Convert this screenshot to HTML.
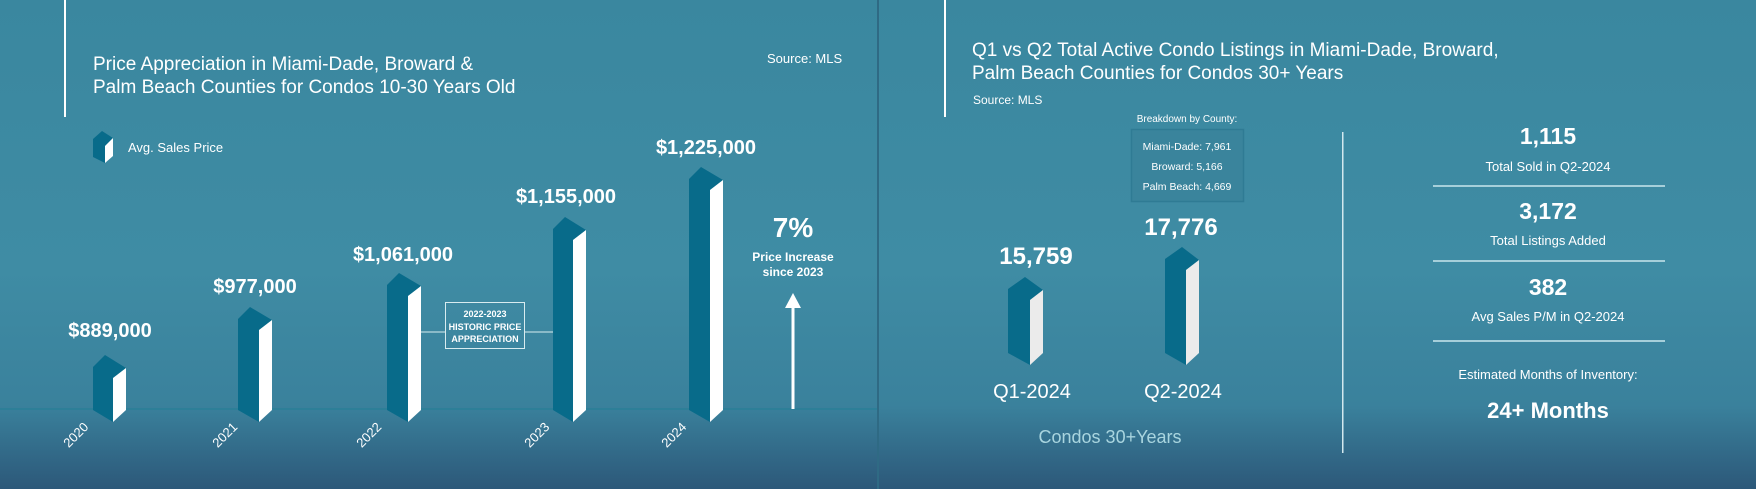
<!DOCTYPE html>
<html><head><meta charset="utf-8"><style>
html,body{margin:0;padding:0;width:1756px;height:489px;overflow:hidden}
body{background:linear-gradient(180deg,#3a87a0 0%,#3e8ca4 60%,#3a819c 80%,#2c5a7b 100%);font-family:"Liberation Sans",sans-serif}
svg text{font-family:"Liberation Sans",sans-serif;fill:#fff}
</style></head><body>
<svg width="1756" height="489" viewBox="0 0 1756 489" xmlns="http://www.w3.org/2000/svg">
<defs>
<linearGradient id="bg" x1="0" y1="0" x2="0" y2="1">
<stop offset="0" stop-color="#3a879f"/><stop offset="0.55" stop-color="#3f8ca4"/><stop offset="0.83" stop-color="#3a819c"/><stop offset="1" stop-color="#2c5879"/></linearGradient>
</defs>
<rect width="1756" height="489" fill="url(#bg)"/>
<rect x="877" y="0" width="2" height="489" fill="#2f6a84"/>
<!-- LEFT -->
<rect x="64" y="0" width="2" height="117" fill="#fff"/>
<text x="93" y="70" font-size="19">Price Appreciation in Miami-Dade, Broward &amp;</text>
<text x="93" y="93" font-size="19">Palm Beach Counties for Condos 10-30 Years Old</text>
<text x="767" y="63" font-size="13">Source: MLS</text>
<polygon points="93,139 102,131 113,138 105,146 105,163 93,157" fill="#086b8a"/>
<polygon points="105,146 113,138 113,156 105,163" fill="#fff"/>
<text x="128" y="152" font-size="13">Avg. Sales Price</text>
<rect x="0" y="408" width="877" height="2" fill="#2d7f98"/>
<g font-weight="bold" font-size="20" text-anchor="middle">
<text x="110" y="337">$889,000</text>
<text x="255" y="293">$977,000</text>
<text x="403" y="261">$1,061,000</text>
<text x="566" y="203">$1,155,000</text>
<text x="706" y="154">$1,225,000</text>
</g>
<g fill="#086b8a">
<polygon points="93,367 105,355 126,368 113,378 113,422 93,410"/>
<polygon points="238,319 250,307 272,320 259,330 259,422 238,410"/>
<polygon points="387,285 399,273 421,286 408,296 408,422 387,410"/>
<polygon points="553,229 565,217 586,230 573,240 573,422 553,410"/>
<polygon points="689,179 701,167 723,180 710,190 710,422 689,410"/>
</g>
<g fill="#fff">
<polygon points="113,378 126,368 126,410 113,422"/>
<polygon points="259,330 272,320 272,410 259,422"/>
<polygon points="408,296 421,286 421,410 408,422"/>
<polygon points="573,240 586,230 586,410 573,422"/>
<polygon points="710,190 723,180 723,410 710,422"/>
</g>
<g font-size="13">
<text transform="translate(79,438) rotate(-45)" text-anchor="middle">2020</text>
<text transform="translate(228,438) rotate(-45)" text-anchor="middle">2021</text>
<text transform="translate(372,438) rotate(-45)" text-anchor="middle">2022</text>
<text transform="translate(540,438) rotate(-45)" text-anchor="middle">2023</text>
<text transform="translate(677,438) rotate(-45)" text-anchor="middle">2024</text>
</g>
<rect x="421" y="331.5" width="24" height="1" fill="#d8ecf0"/>
<rect x="524" y="331.5" width="29" height="1" fill="#d8ecf0"/>
<rect x="445.5" y="302.5" width="79" height="46" fill="none" stroke="#d8ecf0" stroke-width="1"/>
<g font-size="9" font-weight="bold" text-anchor="middle">
<text x="485" y="317">2022-2023</text>
<text x="485" y="330">HISTORIC PRICE</text>
<text x="485" y="342">APPRECIATION</text>
</g>
<text x="793" y="237" font-size="28" font-weight="bold" text-anchor="middle">7%</text>
<text x="793" y="261" font-size="12" font-weight="bold" text-anchor="middle">Price Increase</text>
<text x="793" y="276" font-size="12" font-weight="bold" text-anchor="middle">since 2023</text>
<polygon points="793,293 785,308 801,308" fill="#fff"/>
<rect x="791.5" y="305" width="3" height="104" fill="#fff"/>
<!-- RIGHT -->
<rect x="944" y="0" width="2" height="117" fill="#fff"/>
<text x="972" y="56" font-size="19">Q1 vs Q2 Total Active Condo Listings in Miami-Dade, Broward,</text>
<text x="972" y="79" font-size="19">Palm Beach Counties for Condos 30+ Years</text>
<text x="973" y="104" font-size="12">Source: MLS</text>
<text x="1187" y="122" font-size="10" text-anchor="middle">Breakdown by County:</text>
<rect x="1131.5" y="129.5" width="112" height="72" fill="#3a849c" stroke="#2f7b94" stroke-width="1.5"/>
<g font-size="10.5" text-anchor="middle">
<text x="1187" y="150">Miami-Dade: 7,961</text>
<text x="1187" y="170">Broward: 5,166</text>
<text x="1187" y="190">Palm Beach: 4,669</text>
</g>
<text x="1181" y="235" font-size="24" font-weight="bold" text-anchor="middle">17,776</text>
<text x="1036" y="264" font-size="24" font-weight="bold" text-anchor="middle">15,759</text>
<polygon points="1008,289 1025,277 1043,290 1030,300 1030,365 1008,353" fill="#086b8a"/>
<polygon points="1030,300 1043,290 1043,353 1030,365" fill="#ebebeb"/>
<polygon points="1165,259 1182,247 1199,260 1186,270 1186,365 1165,353" fill="#086b8a"/>
<polygon points="1186,270 1199,260 1199,353 1186,365" fill="#ebebeb"/>
<text x="1032" y="398" font-size="20" text-anchor="middle">Q1-2024</text>
<text x="1183" y="398" font-size="20" text-anchor="middle">Q2-2024</text>
<text x="1110" y="443" font-size="18" text-anchor="middle" style="fill:#a9d5df">Condos 30+Years</text>
<rect x="1342" y="132" width="1.5" height="321" fill="#d2e8ee"/>
<g text-anchor="middle">
<text x="1548" y="144" font-size="23" font-weight="bold">1,115</text>
<text x="1548" y="171" font-size="13">Total Sold in Q2-2024</text>
<rect x="1433" y="185" width="232" height="2" fill="#a6cfda"/>
<text x="1548" y="219" font-size="23" font-weight="bold">3,172</text>
<text x="1548" y="245" font-size="13">Total Listings Added</text>
<rect x="1433" y="260" width="232" height="2" fill="#a6cfda"/>
<text x="1548" y="295" font-size="23" font-weight="bold">382</text>
<text x="1548" y="321" font-size="13">Avg Sales P/M in Q2-2024</text>
<rect x="1433" y="340" width="232" height="2" fill="#a6cfda"/>
<text x="1548" y="379" font-size="13">Estimated Months of Inventory:</text>
<text x="1548" y="418" font-size="22" font-weight="bold">24+ Months</text>
</g>
</svg>
</body></html>
